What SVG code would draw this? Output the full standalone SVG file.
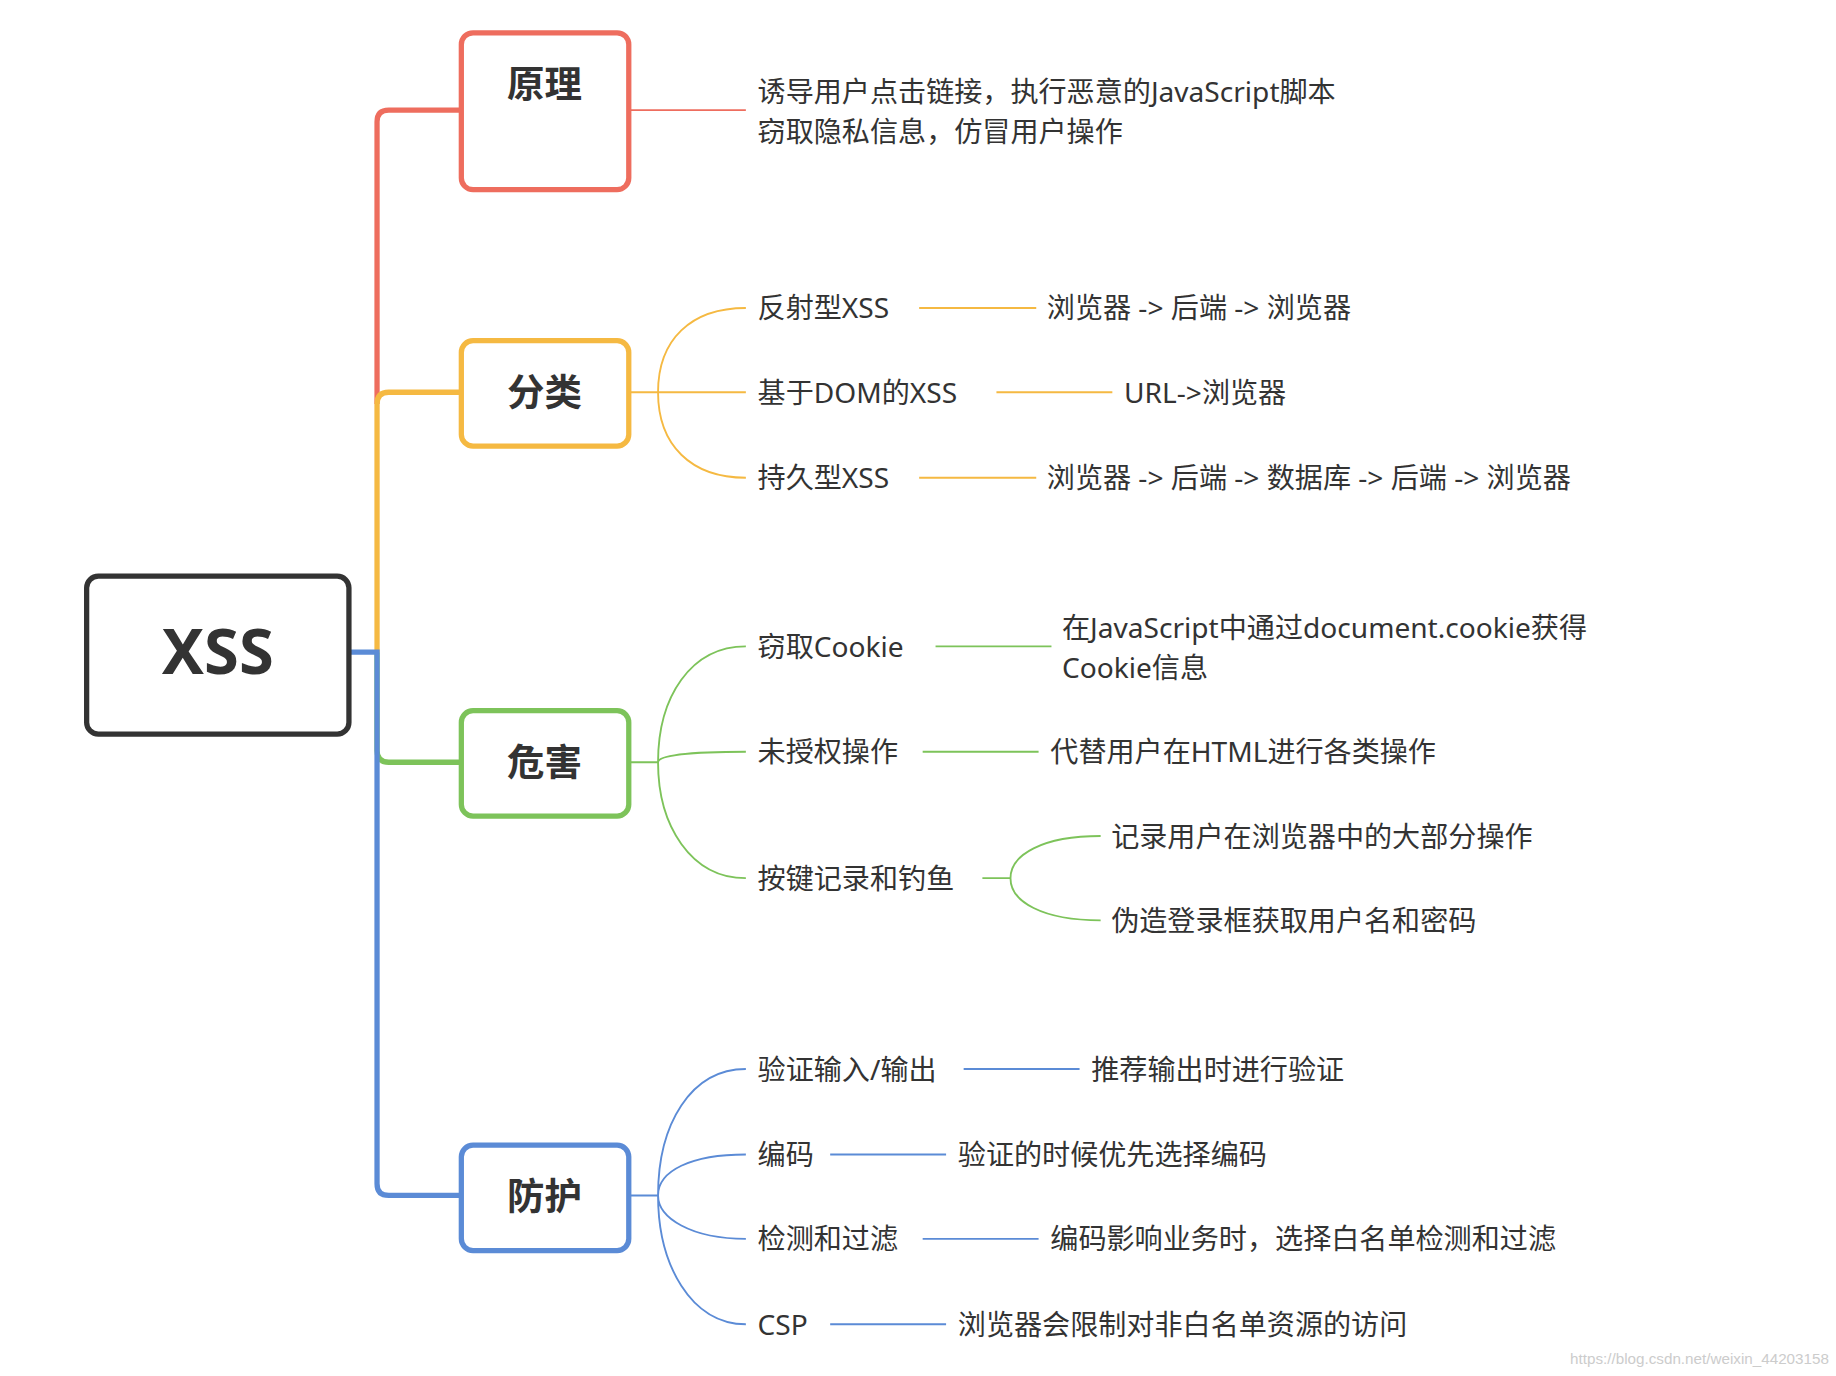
<svg xmlns="http://www.w3.org/2000/svg" width="1836" height="1376" viewBox="0 0 1836 1376">
<style>
.t{font-family:"Noto Sans","Noto Sans CJK SC",sans-serif;font-size:24px;fill:#333}
.h{font-family:"Noto Sans CJK SC",sans-serif;font-size:32px;font-weight:bold;fill:#333;text-anchor:middle}
.r{stroke:#EE6D5E}.o{stroke:#F5B942}.g{stroke:#7DC35A}.b{stroke:#5B8BD6}
.c path{fill:none;stroke-width:1.6}
.box{fill:#fff;stroke-width:4.5}
</style>
<rect width="1836" height="1376" fill="#fff"/>
<g transform="scale(1.1709)">
<g id="trunk" fill="none" stroke-width="4.5">
<path class="r" d="M322 345 V104 Q322 94 332 94 H394"/>
<path class="o" d="M322 557 V345 Q322 335 332 335 H394"/>
<path class="g" d="M322 557 V641 Q322 651 332 651 H394"/>
<path class="b" d="M298 557 H322 V1011 Q322 1021 332 1021 H394"/>
</g>
<g class="c" id="connectors">
<path class="r" d="M537 94 H637"/>
<path class="o" d="M537 335 H562 M562 335 C562 290 590 263 637 263 M562 335 H637 M562 335 C562 380 590 408 637 408 M785 263 H885 M851 335 H950 M785 408 H885"/>
<path class="g" d="M537 651 H562 M562 651 C562 595 590 552 637 552 M562 651 C562 645 590 642 637 642 M562 651 C562 705 590 750 637 750 M799 552 H898 M788 642 H887 M839 750 H863 M863 750 C863 730 890 714 940 714 M863 750 C863 770 890 786 940 786"/>
<path class="b" d="M537 1021 H562 M562 1021 C562 960 590 913 637 913 M562 1021 C562 1000 590 986 637 986 M562 1021 C562 1040 590 1058 637 1058 M562 1021 C562 1080 590 1131 637 1131 M823 913 H922 M709 986 H808 M788 1058 H887 M709 1131 H808"/>
</g>
<g id="xss"><rect x="74" y="492" width="224" height="135" rx="10" class="box" stroke="#333"/>
<text x="186" y="576" text-anchor="middle" font-family="'Noto Sans',sans-serif" font-weight="bold" font-size="54" fill="#333">XSS</text></g>
<g id="yuanli"><rect x="394" y="28" width="143" height="134" rx="10" class="box r"/><text class="h" x="465" y="84">原理</text></g>
<g id="fenlei"><rect x="394" y="291" width="143" height="90" rx="10" class="box o"/><text class="h" x="465" y="347">分类</text></g>
<g id="weihai"><rect x="394" y="607" width="143" height="90" rx="10" class="box g"/><text class="h" x="465" y="663">危害</text></g>
<g id="fanghu"><rect x="394" y="978" width="143" height="90" rx="10" class="box b"/><text class="h" x="465" y="1033">防护</text></g>
<g id="labels" class="t">
<text class="t" x="647" y="87">诱导用户点击链接，执行恶意的JavaScript脚本</text>
<text class="t" x="647" y="121">窃取隐私信息，仿冒用户操作</text>
<text class="t" x="647" y="272">反射型XSS</text><text class="t" x="894" y="272">浏览器 -&gt; 后端 -&gt; 浏览器</text>
<text class="t" x="647" y="344">基于DOM的XSS</text><text class="t" x="960" y="344">URL-&gt;浏览器</text>
<text class="t" x="647" y="417">持久型XSS</text><text class="t" x="894" y="417">浏览器 -&gt; 后端 -&gt; 数据库 -&gt; 后端 -&gt; 浏览器</text>
<text class="t" x="647" y="561">窃取Cookie</text>
<text class="t" x="907" y="545">在JavaScript中通过document.cookie获得</text>
<text class="t" x="907" y="579">Cookie信息</text>
<text class="t" x="647" y="651">未授权操作</text><text class="t" x="897" y="651">代替用户在HTML进行各类操作</text>
<text class="t" x="647" y="759">按键记录和钓鱼</text>
<text class="t" x="949" y="723">记录用户在浏览器中的大部分操作</text>
<text class="t" x="949" y="795">伪造登录框获取用户名和密码</text>
<text class="t" x="647" y="922">验证输入/输出</text><text class="t" x="932" y="922">推荐输出时进行验证</text>
<text class="t" x="647" y="995">编码</text><text class="t" x="818" y="995">验证的时候优先选择编码</text>
<text class="t" x="647" y="1067">检测和过滤</text><text class="t" x="897" y="1067">编码影响业务时，选择白名单检测和过滤</text>
<text class="t" x="647" y="1140">CSP</text><text class="t" x="818" y="1140">浏览器会限制对非白名单资源的访问</text>
</g>
<text x="1562" y="1165" text-anchor="end" font-family="'Liberation Sans',sans-serif" font-size="13" fill="#ccc">https://blog.csdn.net/weixin_44203158</text>
</g>
</svg>
